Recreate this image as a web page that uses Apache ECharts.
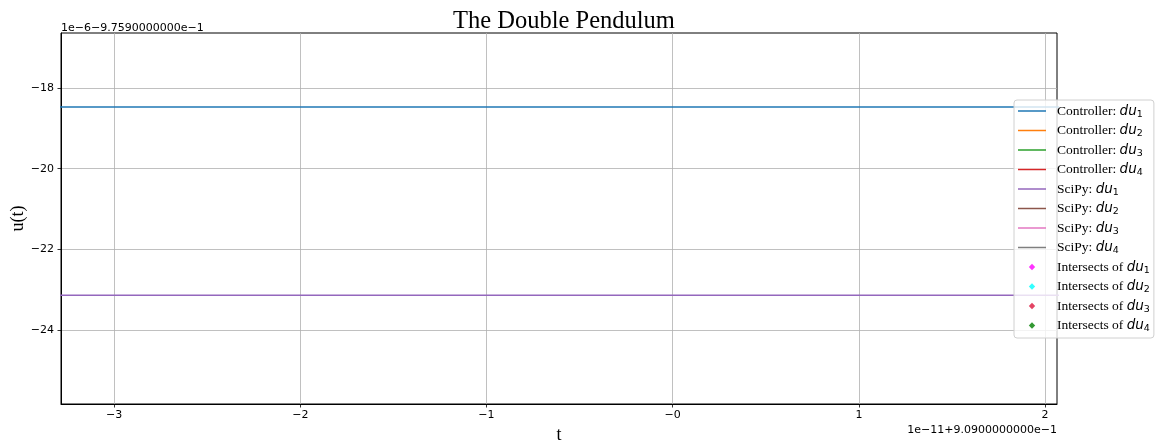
<!DOCTYPE html>
<html>
<head>
<meta charset="utf-8">
<title>The Double Pendulum</title>
<script src="https://cdn.jsdelivr.net/npm/echarts@6/dist/echarts.min.js"></script>
<style>
  html, body { margin: 0; padding: 0; background: #fff; }
  #main { width: 1160px; height: 445px; }
</style>
</head>
<body>
<div id="main"></div>
<script>
// data (offset units: t in 1e-11, u in 1e-6)
const tValues = [-3.4, 2.2];
const ctrlDu1 = [-18.47, -18.47];
const ctrlDu2 = [];
const ctrlDu3 = [];
const ctrlDu4 = [];
const scipyDu1 = [-23.14, -23.14];
const scipyDu2 = [];
const scipyDu3 = [];
const scipyDu4 = [];

const xTicks = [-3, -2, -1, 0, 1, 2];
const xTickLabels = ['−3', '−2', '−1', '−0', '1', '2'];
const yTicks = [-24, -22, -20, -18];
const yTickLabels = ['−24', '−22', '−20', '−18'];

const lineNames = ['Controller: du1', 'Controller: du2', 'Controller: du3', 'Controller: du4',
  'SciPy: du1', 'SciPy: du2', 'SciPy: du3', 'SciPy: du4'];
const lineColors = ['#1f77b4', '#ff7f0e', '#2ca02c', '#d62728', '#9467bd', '#8c564b', '#e377c2', '#7f7f7f'];
const lineData = [ctrlDu1, ctrlDu2, ctrlDu3, ctrlDu4, scipyDu1, scipyDu2, scipyDu3, scipyDu4];

const dotNames = ['Intersects of du1', 'Intersects of du2', 'Intersects of du3', 'Intersects of du4'];
const dotColors = ['#ff00ff', '#00ffff', '#dc143c', '#008000'];

const chart = echarts.init(document.getElementById('main'));

const series = [];
lineNames.forEach((name, i) => {
  series.push({
    name: name,
    type: 'line',
    data: lineData[i].map((v, k) => [tValues[k], v]),
    showSymbol: false,
    color: lineColors[i],
    lineStyle: { width: 1.5, color: lineColors[i] },
    animation: false
  });
});
dotNames.forEach((name, i) => {
  series.push({
    name: name,
    type: 'scatter',
    data: [],
    symbol: 'diamond',
    symbolSize: 6,
    color: dotColors[i],
    itemStyle: { color: dotColors[i] }
  });
});

// legend label: serif text + italic math "du" with a subscript
const legendFmt = (name) => {
  const base = name.slice(0, name.length - 3);
  const sub = name.slice(-1);
  return '{a|' + base + '}{m|du}{s|' + sub + '}';
};

// icons drawn in a 28x8 box so they are not stretched
const lineIcon = 'path://M0,0M28,8M0,3.25H28V4.75H0Z';
const dotIcon = 'path://M0,0M28,8M14,0.8L17.2,4L14,7.2L10.8,4Z';

const tickFont = { fontFamily: 'DejaVu Sans', fontSize: 11, color: '#000' };

const option = {
  backgroundColor: '#fff',
  animation: false,
  title: [
    {
      text: 'The Double Pendulum',
      left: 559, top: 4, textAlign: 'center',
      textStyle: { fontFamily: 'Liberation Serif', fontSize: 24.5, fontWeight: 'normal', color: '#000' }
    },
    {
      text: '1e−6−9.7590000000e−1',
      left: 56, top: 18,
      textStyle: { fontFamily: 'DejaVu Sans', fontSize: 11, fontWeight: 'normal', color: '#000' }
    },
    {
      text: '1e−11+9.0900000000e−1',
      right: 103 - 5, top: 420,
      textStyle: { fontFamily: 'DejaVu Sans', fontSize: 11, fontWeight: 'normal', color: '#000' }
    }
  ],
  grid: {
    left: 61, right: 103, top: 33, bottom: 41,
    outerBoundsMode: 'none',
    show: true, borderColor: '#000', borderWidth: 1, backgroundColor: 'transparent'
  },
  legend: {
    orient: 'vertical',
    left: 1014, top: 100,
    padding: [4, 4, 4, 4],
    itemGap: 4,
    itemWidth: 28,
    itemHeight: 8,
    backgroundColor: 'rgba(255,255,255,0.8)',
    borderColor: '#d0d0d0',
    borderWidth: 1,
    borderRadius: 3,
    data: lineNames.map(n => ({ name: n, icon: lineIcon }))
      .concat(dotNames.map(n => ({ name: n, icon: dotIcon }))),
    formatter: legendFmt,
    textStyle: {
      rich: {
        a: { fontFamily: 'Liberation Serif', fontSize: 13.5, color: '#000', lineHeight: 17, padding: [0, 0, 0, 6] },
        m: { fontFamily: 'DejaVu Sans', fontStyle: 'italic', fontSize: 13.5, color: '#000', lineHeight: 17 },
        s: { fontFamily: 'DejaVu Sans', fontSize: 9.5, color: '#000', lineHeight: 12, verticalAlign: 'bottom' }
      }
    }
  },
  xAxis: {
    type: 'value',
    min: -3.285, max: 2.064,
    name: 't', nameLocation: 'middle', nameGap: 22,
    nameMoveOverlap: false,
    nameTextStyle: { fontFamily: 'Liberation Serif', fontSize: 18, color: '#000' },
    axisLine: { onZero: false, lineStyle: { color: '#000', width: 1 } },
    axisTick: { show: true, length: 3.5, customValues: xTicks, lineStyle: { color: '#000', width: 0.8 } },
    axisLabel: {
      customValues: xTicks, margin: 6, ...tickFont,
      formatter: (v) => xTickLabels[xTicks.indexOf(Math.round(v))]
    },
    splitLine: { show: true, lineStyle: { color: '#b0b0b0', width: 0.8 } }
  },
  yAxis: {
    type: 'value',
    min: -25.834, max: -16.637,
    name: 'u(t)', nameLocation: 'middle', nameGap: 34, nameRotate: 90,
    nameMoveOverlap: false,
    nameTextStyle: { fontFamily: 'Liberation Serif', fontSize: 18, color: '#000' },
    axisLine: { show: true, onZero: false, lineStyle: { color: '#000', width: 1 } },
    axisTick: { show: true, length: 3.5, customValues: yTicks, lineStyle: { color: '#000', width: 0.8 } },
    axisLabel: {
      customValues: yTicks, margin: 7, ...tickFont,
      formatter: (v) => yTickLabels[yTicks.indexOf(Math.round(v))]
    },
    splitLine: { show: true, lineStyle: { color: '#b0b0b0', width: 0.8 } }
  },
  series: series
};

chart.setOption(option);
</script>
</body>
</html>
